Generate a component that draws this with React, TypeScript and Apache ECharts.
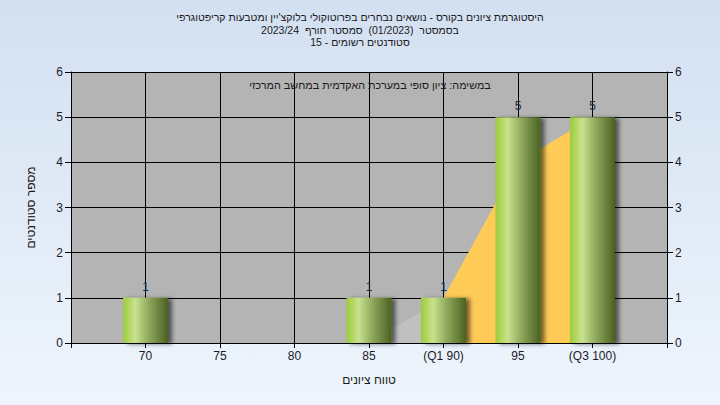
import React, { useEffect, useRef } from "react";
import * as echarts from "echarts";

const titleLines = [
  "היסטוגרמת ציונים בקורס - נושאים נבחרים בפרוטוקולי בלוקצ'יין ומטבעות קריפטוגרפי",
  "בסמסטר  (01/2023)  סמסטר חורף  2023/24",
  "סטודנטים רשומים - 15",
];
const subtitleText = "במשימה: ציון סופי במערכת האקדמית במחשב המרכזי";
const xAxisName = "טווח ציונים";
const yAxisName = "מספר סטודנטים";

const barGrades = [70, 85, 90, 95, 100];
const barCounts = [1, 1, 1, 5, 5];

const lowCurveGrades = [85, 90];
const lowCurveValues = [0, 1];
const iqrCurveGrades = [90, 95, 100];
const iqrCurveValues = [1, 4, 5];

const xTickValues = [70, 75, 80, 85, 90, 95, 100];
const xTickLabels = ["70", "75", "80", "85", "(Q1 90)", "95", "(Q3 100)"];

const FONT = "'Liberation Sans', Arial, sans-serif";

export default function App() {
  const ref = useRef<HTMLDivElement>(null);
  useEffect(() => {
    if (!ref.current) return;
    const chart = echarts.init(ref.current, null, { renderer: "svg" });
    const labelFor = (v: number) => {
      const i = xTickValues.indexOf(v);
      return i >= 0 ? xTickLabels[i] : "";
    };
    const barGradient = new echarts.graphic.LinearGradient(0, 0, 1, 0, [
      { offset: 0, color: "#9CCB3A" },
      { offset: 0.27, color: "#C9E28E" },
      { offset: 0.55, color: "#93AC60" },
      { offset: 1, color: "#4A6220" },
    ]);
    const yAxisCommon = {
      type: "value" as const,
      min: 0,
      max: 6,
      interval: 1,
      axisLine: { show: true, lineStyle: { color: "#000", width: 1 } },
      axisTick: { show: true, length: 6, lineStyle: { color: "#000" } },
      axisLabel: { color: "#1a1a2a", fontSize: 12, fontFamily: FONT, margin: 8 },
    };
    chart.setOption({
      animation: false,
      backgroundColor: new echarts.graphic.LinearGradient(0, 0, 0, 1, [
        { offset: 0, color: "#D3E0F1" },
        { offset: 1, color: "#EEF5FC" },
      ]),
      title: {
        text: titleLines.join("\n"),
        left: "center",
        top: 6,
        textStyle: {
          fontSize: 10.5,
          fontWeight: "normal",
          color: "#1a1a1a",
          fontFamily: FONT,
          lineHeight: 12.5,
        },
      },
      grid: {
        left: 71,
        right: 53,
        top: 72,
        bottom: 62,
        show: true,
        backgroundColor: "#B4B4B4",
        borderWidth: 0,
      },
      graphic: [
        {
          type: "text",
          x: 370,
          y: 85,
          z: 5,
          style: {
            text: subtitleText,
            fontSize: 10.8,
            fontFamily: FONT,
            fill: "#1a1a1a",
            textAlign: "center",
            textVerticalAlign: "middle",
          },
        },
      ],
      xAxis: {
        type: "value",
        min: 65,
        max: 105,
        interval: 5,
        name: xAxisName,
        nameLocation: "middle",
        nameGap: 31,
        nameTextStyle: { fontSize: 12, color: "#1a1a1a", fontFamily: FONT },
        axisLine: { show: true, lineStyle: { color: "#000", width: 1 } },
        axisTick: { show: true, length: 5, lineStyle: { color: "#000" } },
        axisLabel: {
          color: "#1a1a2a",
          fontSize: 12,
          fontFamily: FONT,
          margin: 7,
          formatter: (v: number) => labelFor(v),
        },
        splitLine: { show: true, lineStyle: { color: "#000", width: 1 } },
      },
      yAxis: [
        {
          ...yAxisCommon,
          position: "left",
          name: yAxisName,
          nameLocation: "middle",
          nameGap: 34,
          nameTextStyle: { fontSize: 12, color: "#1a1a1a", fontFamily: FONT },
          splitLine: { show: true, lineStyle: { color: "#000", width: 1 } },
        },
        {
          ...yAxisCommon,
          position: "right",
          splitLine: { show: false },
        },
      ],
      series: [
        {
          type: "line",
          data: lowCurveGrades.map((g, i) => [g, lowCurveValues[i]]),
          symbol: "none",
          lineStyle: { width: 0 },
          areaStyle: { color: "#C0C0C0", opacity: 1 },
          z: 1,
          silent: true,
        },
        {
          type: "line",
          data: iqrCurveGrades.map((g, i) => [g, iqrCurveValues[i]]),
          symbol: "none",
          lineStyle: { width: 0 },
          areaStyle: { color: "#FECB57", opacity: 1 },
          z: 1,
          silent: true,
        },
        {
          type: "bar",
          data: barGrades.map((g, i) => [g, barCounts[i]]),
          barWidth: 45,
          z: 3,
          itemStyle: {
            color: barGradient,
            shadowColor: "rgba(0,0,0,0.55)",
            shadowBlur: 4,
            shadowOffsetX: 4,
            shadowOffsetY: 1,
          },
          label: {
            show: true,
            position: "top",
            distance: 5,
            fontSize: 12,
            fontFamily: FONT,
            color: "#1d2b40",
          },
        },
      ],
    });
    return () => chart.dispose();
  }, []);
  return (
    <div
      ref={ref}
      style={{ position: "fixed", left: 0, top: 0, width: 720, height: 405 }}
    />
  );
}
